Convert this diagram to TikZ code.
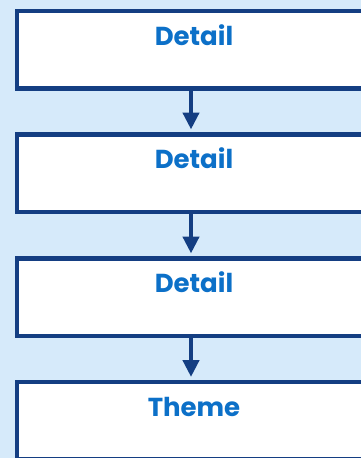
\documentclass[tikz,border=0pt]{standalone}
\usepackage{fontspec}
\setmainfont{Poppins}[BoldFont={* Bold}]
\usetikzlibrary{arrows.meta}
\definecolor{bgblue}{RGB}{214,234,250}
\definecolor{edgeblue}{RGB}{20,62,130}
\definecolor{txtblue}{RGB}{12,112,200}
\tikzset{
  box/.style={draw=edgeblue, line width=4.5pt, fill=white, inner sep=0pt,
    minimum width=354pt, text height=34.5pt, text depth=43pt,
    font=\fontsize{26}{26}\selectfont\bfseries, text=txtblue},
  arr/.style={draw=edgeblue, line width=4.5pt,
    -{Triangle[width=16pt,length=17pt]}, shorten >=2.5pt, shorten <=0pt}
}
\begin{document}
\begin{tikzpicture}[x=1pt,y=-1pt]
\fill[bgblue] (0,0) rectangle (361,458);
\useasboundingbox (0,0) rectangle (361,458);
\clip (0,0) rectangle (361,458);
\node[box, anchor=north] (b1) at (194,8.5) {Detail};
\node[box, anchor=north] (b2) at (194,132) {Detail};
\node[box, anchor=north] (b3) at (194,256) {Detail};
\node[box, anchor=north] (b4) at (194,379.5) {Theme};
\draw[arr] ([xshift=-3pt]b1.south) -- ([xshift=-3pt]b2.north);
\draw[arr] ([xshift=-3pt]b2.south) -- ([xshift=-3pt]b3.north);
\draw[arr] ([xshift=-3pt]b3.south) -- ([xshift=-3pt]b4.north);
\end{tikzpicture}
\end{document}
